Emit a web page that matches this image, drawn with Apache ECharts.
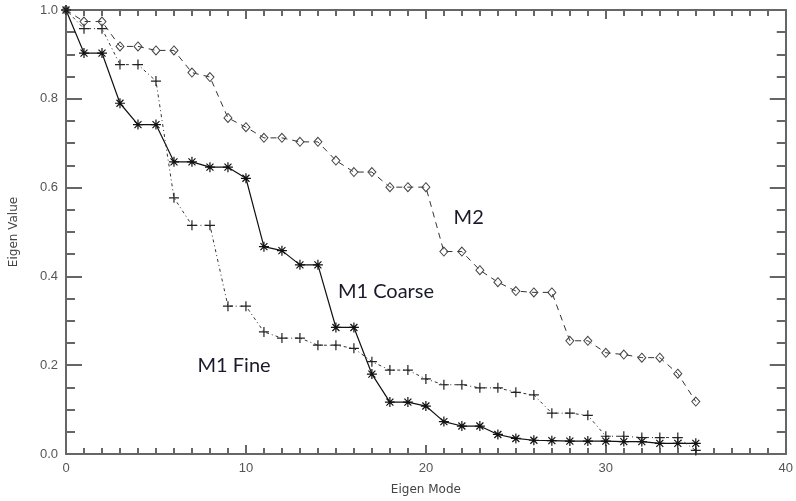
<!DOCTYPE html>
<html>
<head>
<meta charset="utf-8">
<script src="https://cdn.jsdelivr.net/npm/echarts@6/dist/echarts.min.js"></script>
<style>
html,body{margin:0;padding:0;background:#fff;}
#chart{width:796px;height:501px;}
</style>
</head>
<body>
<div id="chart"></div>
<script>
const modes = Array.from({length: 36}, (_, i) => i);
const m1Coarse = [1.0,0.903,0.903,0.79,0.742,0.742,0.658,0.658,0.646,0.646,0.621,0.467,0.458,0.426,0.426,0.285,0.285,0.18,0.117,0.117,0.108,0.073,0.063,0.063,0.044,0.035,0.031,0.030,0.029,0.029,0.029,0.028,0.028,0.024,0.024,0.024];
const m1Fine = [1.0,0.958,0.958,0.877,0.877,0.84,0.577,0.515,0.515,0.333,0.333,0.275,0.261,0.261,0.245,0.245,0.238,0.208,0.189,0.189,0.169,0.156,0.156,0.149,0.149,0.139,0.133,0.092,0.092,0.087,0.040,0.040,0.037,0.037,0.037,0.008];
const m2 = [1.0,0.974,0.974,0.918,0.918,0.909,0.909,0.859,0.849,0.757,0.736,0.712,0.712,0.703,0.703,0.661,0.635,0.635,0.601,0.601,0.601,0.456,0.456,0.414,0.387,0.367,0.364,0.364,0.255,0.255,0.228,0.224,0.217,0.217,0.181,0.118];
const xTicks = [0, 10, 20, 30, 40];
const yTicks = [0.0, 0.2, 0.4, 0.6, 0.8, 1.0];
const seriesNames = ['M1 Coarse', 'M1 Fine', 'M2'];
const labelAnchors = [[15.11, 0.367], [7.31, 0.199], [21.54, 0.533]];

const pair = arr => arr.map((v, i) => [modes[i], v]);

const axisColor = '#666';
const chart = echarts.init(document.getElementById('chart'), null, {renderer: 'canvas'});

const baseX = {
  type: 'value', min: xTicks[0], max: xTicks[xTicks.length - 1], interval: 10,
  axisLine: {show: true, onZero: false, lineStyle: {color: axisColor, width: 2}},
  axisTick: {show: true, inside: true, length: 9, lineStyle: {color: axisColor, width: 2}},
  minorTick: {show: true, splitNumber: 10, length: 6, lineStyle: {color: axisColor, width: 2}},
  splitLine: {show: false}
};
const baseY = {
  type: 'value', min: yTicks[0], max: yTicks[yTicks.length - 1], interval: 0.2,
  axisLine: {show: true, onZero: false, lineStyle: {color: axisColor, width: 2}},
  axisTick: {show: true, inside: true, length: 16, lineStyle: {color: axisColor, width: 2}},
  minorTick: {show: true, splitNumber: 4, length: 9, lineStyle: {color: axisColor, width: 2}},
  splitLine: {show: false}
};

const asterisk = 'path://M5,0L5,10M0,5L10,5M1.5,1.5L8.5,8.5M8.5,1.5L1.5,8.5';
const plus = 'path://M5,0L5,10M0,5L10,5';
const diamond = 'path://M5,0L10,5L5,10L0,5Z';

chart.setOption({
  animation: false,
  backgroundColor: '#fff',
  grid: {left: 60, right: 8, top: 10, bottom: 42},
  xAxis: [
    Object.assign({}, baseX, {
      position: 'bottom',
      name: 'Eigen Mode', nameLocation: 'middle', nameGap: 30,
      nameTextStyle: {color: '#444', fontFamily: 'DejaVu Sans', fontSize: 12},
      axisLabel: {show: true, color: '#555', fontFamily: 'Liberation Sans', fontSize: 13, margin: 8}
    }),
    Object.assign({}, baseX, {position: 'top', axisLabel: {show: false}})
  ],
  yAxis: [
    Object.assign({}, baseY, {
      position: 'left',
      name: 'Eigen Value', nameLocation: 'middle', nameGap: 46, nameRotate: 90,
      nameTextStyle: {color: '#444', fontFamily: 'DejaVu Sans', fontSize: 12},
      axisLabel: {show: true, color: '#555', fontFamily: 'Liberation Sans', fontSize: 13, margin: 8,
        formatter: v => v.toFixed(1)}
    }),
    Object.assign({}, baseY, {position: 'right', axisLabel: {show: false}})
  ],
  series: [
    {
      name: seriesNames[0], type: 'line', xAxisIndex: 0, yAxisIndex: 0,
      data: pair(m1Coarse),
      symbol: asterisk, symbolSize: 10, showAllSymbol: true,
      lineStyle: {color: '#111', width: 1.2, type: 'solid'},
      itemStyle: {color: 'transparent', borderColor: '#111', borderWidth: 1.2}
    },
    {
      name: seriesNames[1], type: 'line', xAxisIndex: 0, yAxisIndex: 0,
      data: pair(m1Fine),
      symbol: plus, symbolSize: 10, showAllSymbol: true,
      lineStyle: {color: '#333', width: 1, type: [3, 3, 1, 3]},
      itemStyle: {color: 'transparent', borderColor: '#222', borderWidth: 1.2}
    },
    {
      name: seriesNames[2], type: 'line', xAxisIndex: 0, yAxisIndex: 0,
      data: pair(m2),
      symbol: diamond, symbolSize: [8, 9], showAllSymbol: true,
      lineStyle: {color: '#333', width: 1, type: [6, 5]},
      itemStyle: {color: 'transparent', borderColor: '#444', borderWidth: 1}
    }
  ]
});

const graphics = seriesNames.map((name, i) => {
  const p = chart.convertToPixel({xAxisIndex: 0, yAxisIndex: 0}, labelAnchors[i]);
  return {
    type: 'text', x: p[0], y: p[1],
    style: {text: name, fill: '#1a1a2a', font: '20px Lato', align: 'left', verticalAlign: 'middle'}
  };
});
chart.setOption({graphic: graphics});
</script>
</body>
</html>
